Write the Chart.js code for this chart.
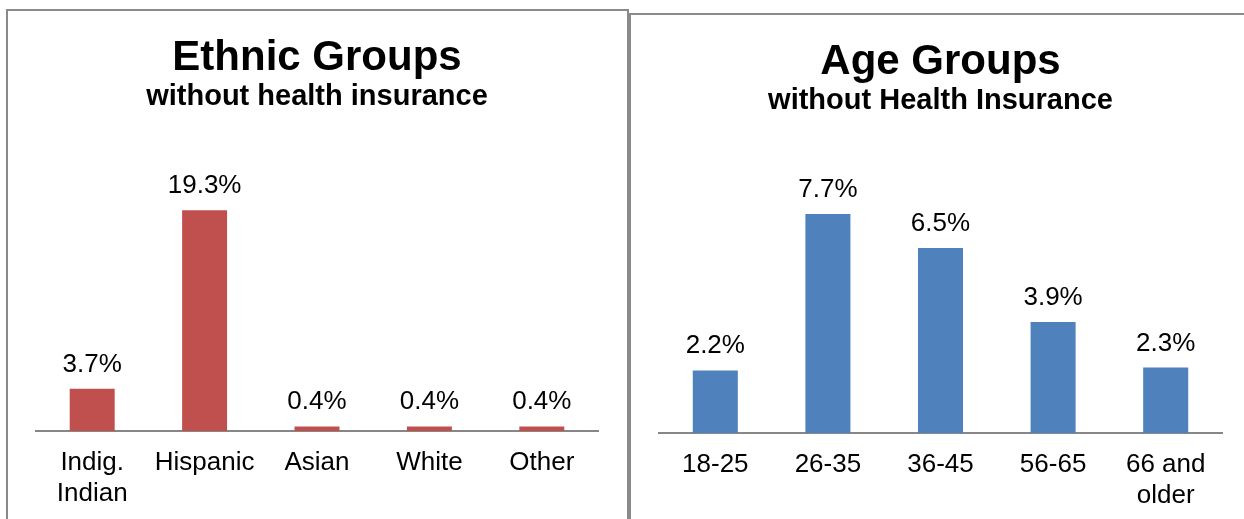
<!DOCTYPE html>
<html>
<head>
<meta charset="utf-8">
<script src="https://cdn.jsdelivr.net/npm/chart.js@4"></script>
<style>
  html, body { margin: 0; padding: 0; background: #fff; overflow: hidden; width: 1244px; height: 519px; }
  .box { position: absolute; border: 2px solid #8a8a8a; background: #fff; overflow: hidden; }
  #leftBox { left: 6px; top: 9px; width: 619px; height: 540px; }
  #rightBox { left: 629px; top: 13px; width: 620px; height: 540px; }
  .holder { position: absolute; left: 0; top: 0; }
</style>
</head>
<body>
<div class="box" id="leftBox"><div class="holder" style="width:619px;height:524px"><canvas id="ethnic"></canvas></div></div>
<div class="box" id="rightBox"><div class="holder" style="width:620px;height:520px"><canvas id="age"></canvas></div></div>
<script>
const ethnicLabels = [["Indig.", "Indian"], "Hispanic", "Asian", "White", "Other"];
const ethnicValues = [3.7, 19.3, 0.4, 0.4, 0.4];

const ageLabels = ["18-25", "26-35", "36-45", "56-65", ["66 and", "older"]];
const ageValues = [2.2, 7.7, 6.5, 3.9, 2.3];

const FONT = "'Liberation Sans', Arial, sans-serif";

// draws the % value above every bar
const valueLabels = {
  id: "valueLabels",
  afterDatasetsDraw(chart) {
    const ctx = chart.ctx;
    ctx.save();
    ctx.font = "26px " + FONT;
    ctx.fillStyle = "#000";
    ctx.textAlign = "center";
    ctx.textBaseline = "alphabetic";
    chart.getDatasetMeta(0).data.forEach((bar, i) => {
      const v = chart.data.datasets[0].data[i];
      ctx.fillText(v.toFixed(1) + "%", bar.x, bar.y - 17);
    });
    ctx.restore();
  },
};

function makeChart(id, title, subtitle, labels, values, color, yMax, subPad, bottomPad) {
  return new Chart(document.getElementById(id), {
    type: "bar",
    data: {
      labels: labels,
      datasets: [{
        data: values,
        backgroundColor: color,
        categoryPercentage: 1,
        barPercentage: 0.4,
      }],
    },
    plugins: [valueLabels],
    options: {
      responsive: true,
      maintainAspectRatio: false,
      animation: false,
      layout: { padding: { left: 28, right: 29, top: 0, bottom: bottomPad } },
      plugins: {
        legend: { display: false },
        tooltip: { enabled: false },
        title: {
          display: true,
          text: title,
          color: "#000",
          font: { family: FONT, size: 42, weight: "bold", lineHeight: 1 },
          padding: { top: 26, bottom: 0 },
        },
        subtitle: {
          display: true,
          text: subtitle,
          color: "#000",
          font: { family: FONT, size: 29, weight: "bold", lineHeight: 1 },
          padding: { top: 3, bottom: subPad },
        },
      },
      scales: {
        x: {
          grid: { display: false, drawTicks: false },
          border: { display: true, color: "#878787", width: 2 },
          ticks: {
            color: "#000",
            padding: 16,
            maxRotation: 0,
            autoSkip: false,
            font: { family: FONT, size: 26, lineHeight: 1.2 },
          },
        },
        y: {
          display: false,
          min: 0,
          max: yMax,
        },
      },
    },
  });
}

makeChart("ethnic", "Ethnic Groups", "without health insurance",
  ethnicLabels, ethnicValues, "#C0504D", 25, 34, 9.6);
makeChart("age", "Age Groups", "without Health Insurance",
  ageLabels, ageValues, "#4F81BD", 9, 62, 7.6);
</script>
</body>
</html>
